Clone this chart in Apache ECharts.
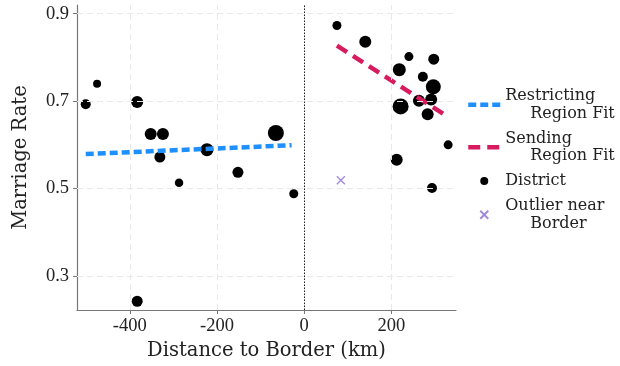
<!DOCTYPE html>
<html>
<head>
<meta charset="utf-8">
<script src="https://cdn.jsdelivr.net/npm/echarts@6/dist/echarts.min.js"></script>
<style>html,body{margin:0;padding:0;background:#fff;}#c{width:620px;height:366px;}</style>
</head>
<body>
<div id="c"></div>
<script>
// ---- data ----
const districtDist = [-501, -475, -383, -352, -324, -331, -287, -223, -152, -65, -383, -24,
  75, 140, 240, 297, 218, 272, 296, 291, 263, 221, 283, 330, 212, 293];
const districtRate = [0.693, 0.740, 0.698, 0.625, 0.625, 0.572, 0.513, 0.589, 0.537, 0.627, 0.242, 0.488,
  0.873, 0.836, 0.802, 0.796, 0.772, 0.756, 0.733, 0.704, 0.701, 0.688, 0.670, 0.600, 0.566, 0.501];
const districtWeight = [10, 8, 12, 12, 12, 11, 8.5, 13, 11, 16, 11, 9,
  9, 12, 9, 11, 13, 10, 15, 12, 12, 16, 12, 9, 12, 10];
const outlierDist = [84];
const outlierRate = [0.519];
const restrictFitX = [-501, -29];
const restrictFitY = [0.579, 0.599];
const sendingFitX = [75, 328];
const sendingFitY = [0.827, 0.665];
const xTicks = [-400, -200, 0, 200];
const yTicks = [0.3, 0.5, 0.7, 0.9];
const borderX = 0;

const serif = 'DejaVu Serif';
const tickFont = 'Liberation Serif';
const blue = '#1e8fff';
const red = '#d81b5e';
const legendLabels = {
  'Restricting Region Fit': ['Restricting', 'Region Fit'],
  'Sending Region Fit': ['Sending', 'Region Fit'],
  'District': ['District'],
  'Outlier near Border': ['Outlier near', 'Border']
};

const zip = (a, b) => a.map((v, i) => [v, b[i]]);
const districtData = districtDist.map((v, i) => [v, districtRate[i], districtWeight[i]]);

const gridLines = xTicks.map(v => ({ xAxis: v })).concat(yTicks.map(v => ({ yAxis: v })));

const chart = echarts.init(document.getElementById('c'), null, { renderer: 'canvas' });
chart.setOption({
  animation: false,
  backgroundColor: '#fff',
  grid: { left: 77, right: 164, top: 5, bottom: 56, containLabel: false },
  xAxis: {
    type: 'value', min: -521, max: 348,
    name: 'Distance to Border (km)', nameLocation: 'middle', nameGap: 30,
    nameTextStyle: { fontFamily: serif, fontSize: 19.5, color: '#222' },
    axisLine: { onZero: false, lineStyle: { color: '#777', width: 1.2 } },
    axisTick: { show: true, customValues: xTicks, length: 4, lineStyle: { color: '#777' } },
    axisLabel: { customValues: xTicks, fontFamily: tickFont, fontSize: 18.5, color: '#222', margin: 7 },
    splitLine: { show: false }
  },
  yAxis: {
    type: 'value', min: 0.222, max: 0.92,
    name: 'Marriage Rate', nameLocation: 'middle', nameGap: 46,
    nameTextStyle: { fontFamily: serif, fontSize: 19.5, color: '#222' },
    axisLine: { show: true, onZero: false, lineStyle: { color: '#777', width: 1.2 } },
    axisTick: { show: true, customValues: yTicks, length: 4, lineStyle: { color: '#777' } },
    axisLabel: { customValues: yTicks, fontFamily: tickFont, fontSize: 18.5, color: '#222', margin: 8,
      formatter: v => v.toFixed(1) },
    splitLine: { show: false }
  },
  legend: {
    orient: 'vertical', left: 461, top: 83,
    itemWidth: 32, itemHeight: 8, itemGap: 9,
    data: [
      { name: 'Restricting Region Fit', itemStyle: { color: 'rgba(0,0,0,0)', opacity: 0 },
        lineStyle: { color: blue, width: 4.5, type: [8, 4] } },
      { name: 'Sending Region Fit', itemStyle: { color: 'rgba(0,0,0,0)', opacity: 0 },
        lineStyle: { color: red, width: 4.5, type: [12, 7] } },
      { name: 'District', icon: 'circle' },
      { name: 'Outlier near Border' }
    ],
    formatter: name => {
      const l = legendLabels[name];
      return l.length > 1 ? '{a|' + l[0] + '}\n{b|' + l[1] + '}' : '{a|' + l[0] + '}';
    },
    textStyle: {
      fontFamily: serif, fontSize: 16, color: '#222',
      rich: {
        a: { fontFamily: serif, fontSize: 16, color: '#222', lineHeight: 17.5 },
        b: { fontFamily: serif, fontSize: 16, color: '#222', lineHeight: 17.5, padding: [0, 0, 0, 25] }
      }
    }
  },
  series: [
    {
      name: 'grid', type: 'line', data: [], silent: true, z: 0,
      markLine: {
        silent: true, symbol: 'none', animation: false,
        label: { show: false },
        lineStyle: { color: '#e8e8e8', type: [6, 4], width: 1 },
        data: gridLines
      }
    },
    {
      name: 'border', type: 'line', data: [], silent: true, z: 1,
      markLine: {
        silent: true, symbol: 'none', animation: false,
        label: { show: false },
        lineStyle: { color: '#222', type: [1.5, 1.5], width: 1 },
        data: [{ xAxis: borderX }]
      }
    },
    {
      name: 'District', type: 'scatter', z: 3,
      data: districtData,
      symbol: 'circle',
      symbolSize: v => v[2],
      itemStyle: { color: '#000', opacity: 1 }
    },
    {
      name: 'Outlier near Border', type: 'scatter', z: 3,
      data: zip(outlierDist, outlierRate),
      symbol: 'path://M0,0L10,10M10,0L0,10',
      symbolSize: 8,
      itemStyle: { color: 'rgba(0,0,0,0)', borderColor: '#8a6cd2', borderWidth: 1.3 }
    },
    {
      name: 'Restricting Region Fit', type: 'line', z: 4,
      data: zip(restrictFitX, restrictFitY),
      symbol: 'none',
      lineStyle: { color: blue, width: 4.5, type: [8, 4] },
      itemStyle: { color: blue }
    },
    {
      name: 'Sending Region Fit', type: 'line', z: 4,
      data: zip(sendingFitX, sendingFitY),
      symbol: 'none',
      lineStyle: { color: red, width: 4.5, type: [12, 7] },
      itemStyle: { color: red }
    }
  ]
});
</script>
</body>
</html>
